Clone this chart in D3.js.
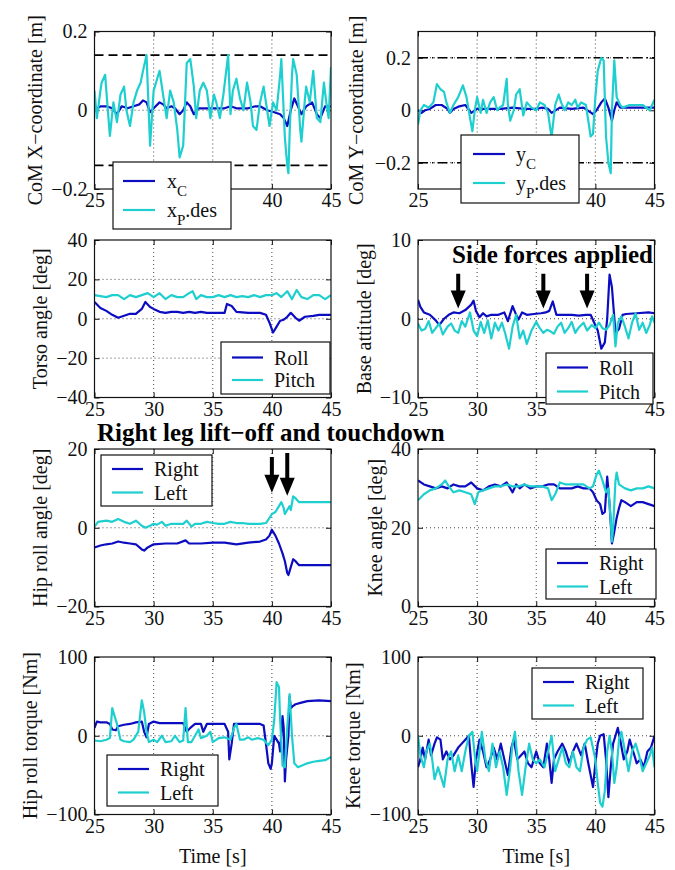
<!DOCTYPE html>
<html>
<head>
<meta charset="utf-8">
<script src="https://cdnjs.cloudflare.com/ajax/libs/d3/7.8.5/d3.min.js"></script>
<style>
  body { margin: 0; background: #fff; }
  svg text { font-family: "Liberation Serif", "Times New Roman", serif; }
</style>
</head>
<body>
<div id="chart"></div>
<script>
var BLUE = "#0c0cc0", CYAN = "#1fcfcf";
var SERIF = "Liberation Serif, Times New Roman, serif";
var timeTicks = [25, 30, 35, 40, 45];

// CoM X [m]
var xC = [[25,0],[25.5,0.01],[26,0.01],[26.5,0.005],[26.9,-0.01],[27.3,0.01],[27.8,0.005],[28.3,0.01],[28.8,0.015],[29.1,0.025],[29.4,0.02],[29.7,-0.005],[30,0.005],[30.5,0.02],[30.8,0.015],[31.1,0.005],[31.5,0.01],[31.8,0.005],[32.2,-0.01],[32.5,0],[32.8,0.02],[33.1,0.01],[33.4,-0.01],[33.8,0.005],[34.5,0.005],[35.2,0.005],[36,0.005],[36.5,0.01],[37,0.005],[38,0.005],[38.6,0.01],[39,0.01],[39.6,0],[40.2,-0.005],[40.7,-0.01],[41,-0.02],[41.3,-0.04],[41.6,0],[41.9,0.03],[42.2,0.01],[42.5,-0.01],[42.9,0.01],[43.4,0.02],[43.8,-0.01],[44.1,-0.02],[44.5,0.01],[45,0.01]];
var xPdes = [[25,0.05],[25.2,-0.02],[25.5,0.05],[25.6,0.07],[25.9,0.09],[26,0.05],[26.3,-0.065],[26.6,0.02],[26.9,-0.03],[27.2,0.04],[27.5,0.06],[27.7,0],[28,-0.04],[28.3,0.02],[28.6,0.05],[28.9,0.07],[29.1,0.1],[29.4,0.14],[29.7,-0.09],[30,0.05],[30.3,0.08],[30.5,0.1],[30.8,0.04],[31.1,-0.02],[31.4,0.05],[31.7,0.02],[32,-0.05],[32.2,-0.12],[32.5,-0.09],[32.8,0.12],[33.1,0.13],[33.4,0.06],[33.6,-0.02],[33.9,0.05],[34.2,0.07],[34.5,0.05],[34.8,-0.02],[35.1,0.04],[35.3,0.02],[35.6,-0.02],[35.9,0.04],[36.3,0.14],[36.5,-0.01],[36.7,0.05],[37,0.08],[37.3,0.03],[37.6,0],[37.9,0.07],[38.2,0.02],[38.4,-0.04],[38.7,-0.05],[39,0.02],[39.3,0.06],[39.6,0],[39.8,-0.04],[40.1,0.02],[40.4,0],[40.7,0.09],[40.8,0.13],[41.1,-0.07],[41.3,-0.14],[41.4,-0.16],[41.5,-0.06],[41.7,0.09],[41.8,0.13],[42.1,0.09],[42.4,-0.05],[42.5,-0.08],[42.8,0.03],[42.9,0.06],[43.2,0.02],[43.5,0.1],[43.8,-0.02],[44.1,-0.03],[44.4,0.07],[44.6,0.02],[44.8,-0.02],[45,0.11]];
var xLimits = [0.14, -0.14];

// CoM Y [m]
var yC = [[25,0],[25.3,-0.01],[25.6,0],[26,0.005],[26.5,0.02],[27,0.02],[27.5,0.005],[27.7,-0.01],[28,0.005],[28.5,0.015],[29,0.02],[29.5,-0.01],[30,0.005],[31,0.005],[32,0.005],[33,0.01],[34,0.005],[35,0.005],[35.5,0.01],[36,0.005],[36.3,-0.01],[37,0.01],[38,0.005],[39,0.01],[39.5,-0.005],[39.8,-0.015],[40.1,0],[40.5,0.03],[40.8,0.045],[41.1,0.01],[41.4,-0.04],[41.6,0],[41.8,0.03],[42.1,0.01],[43,0.01],[45,0.01]];
var yPdes = [[25,-0.055],[25.2,0],[25.5,0.02],[25.9,0.01],[26.3,0.03],[26.6,0.1],[26.9,0.08],[27.2,0.07],[27.4,0.03],[27.7,-0.01],[28,0.02],[28.4,0.05],[28.8,0.095],[29.1,0.05],[29.4,-0.03],[29.6,-0.08],[29.8,0],[30,0.05],[30.3,-0.01],[30.5,0.04],[30.8,-0.01],[31.1,0.03],[31.4,0.05],[31.7,0],[31.9,0.01],[32.2,0.02],[32.5,0.12],[32.6,0.02],[32.8,-0.04],[33.1,0],[33.3,0.06],[33.6,0.08],[33.9,-0.02],[34.2,0.03],[34.6,0.01],[35,0],[35.3,0.03],[35.7,0.02],[36,-0.01],[36.2,-0.075],[36.3,-0.1],[36.6,0.02],[36.9,0.06],[37.1,0.03],[37.4,0],[37.7,0.03],[38,0.02],[38.3,0.04],[38.5,0.01],[38.8,0.03],[39.2,0.02],[39.4,-0.04],[39.6,-0.1],[39.8,-0.09],[40,0.05],[40.2,0.15],[40.5,0.2],[40.7,0.19],[40.9,-0.1],[41.1,-0.2],[41.3,-0.24],[41.4,0],[41.6,0.19],[41.8,0.05],[42.1,0.02],[42.3,0.01],[42.9,0.02],[43.5,0.02],[44,0.02],[44.6,0],[45,0.04]];
var yLimits = [0.2, -0.2];

// Torso angle [deg]
var torsoRoll = [[25,8.5],[25.5,5.5],[26,4],[26.5,2],[27,0.5],[27.5,1.5],[28,2.5],[28.5,2.5],[29,5],[29.3,8.5],[29.7,6],[30,5],[30.5,3.5],[31,3],[31.5,3.5],[32,3.5],[32.5,3],[33,3.5],[33.5,3],[34,3.5],[34.5,3],[35,3],[35.5,3],[36,3],[36.2,7.5],[36.6,6.5],[37,3.5],[38,3],[38.5,3],[39,3],[39.5,2],[39.8,-2],[40.1,-7],[40.4,-4],[40.7,-1],[41,-0.5],[41.3,1],[41.6,3],[42,0.5],[42.3,-1],[42.8,1],[43.5,1.5],[44,2],[45,2]];
var torsoPitch = [[25,12],[25.5,11.5],[26,11],[26.5,12],[27,12],[27.5,10],[28,12],[28.5,11],[29,12],[29.5,13],[30,11],[30.5,13],[31,10],[31.5,12],[32,11],[32.5,11],[33,13],[33.3,14],[33.6,10],[34,12],[34.5,11],[35,11],[35.5,12],[36,11],[36.5,12],[37,11],[37.5,11.5],[38,11],[38.5,12],[39,11],[39.5,12],[40,12],[40.4,13],[40.8,11],[41.3,14],[41.7,10],[42.1,14.6],[42.5,11],[43,10],[43.5,12],[44,12],[44.5,10],[45,12]];

// Base attitude [deg]
var baseRoll = [[25,2.4],[25.2,1.5],[25.5,0.8],[26,0.5],[26.5,-0.2],[26.8,-0.8],[27.2,0],[27.6,0.5],[28,0.8],[28.5,0.7],[29,1.1],[29.5,1.8],[29.7,2.3],[29.9,1],[30.2,0.2],[30.5,0.7],[30.8,0.3],[31.2,0.5],[31.8,0.5],[32.3,0.8],[32.6,-0.3],[33,1.6],[33.3,0.5],[33.5,-0.1],[33.8,0.8],[34.2,0.5],[34.8,0.6],[35.4,0.7],[35.8,0.8],[36.1,1],[36.4,2.2],[36.7,0.5],[37.2,0.5],[38,0.5],[38.6,0.4],[39.2,0.5],[39.6,0.5],[39.9,-0.5],[40.2,-1.5],[40.5,-3.8],[40.8,-3],[41,0],[41.2,5.6],[41.4,4],[41.7,-1.8],[42,-1.3],[42.3,0.5],[42.6,0.6],[43.5,0.7],[44.5,0.8],[45,0.7]];
var basePitch = [[25,-0.6],[25.3,-1.5],[25.6,-1.3],[25.9,-0.3],[26.2,-1.8],[26.5,-1.2],[26.8,-0.6],[27.1,-2],[27.5,-1],[27.8,-0.6],[28.1,-1.5],[28.4,-1.8],[28.7,-0.3],[29,-1],[29.4,0.8],[29.7,-1.5],[30,-2.2],[30.3,-0.4],[30.6,-1.8],[30.9,-0.2],[31.2,-2.5],[31.5,-0.5],[31.8,-1.5],[32.1,-0.5],[32.4,-2],[32.7,-3.8],[33,-1],[33.3,0.5],[33.6,-2.5],[33.9,-1.5],[34.2,-3.2],[34.6,-1.5],[35,-0.4],[35.3,-1.2],[35.6,-1.8],[35.9,-1.4],[36.2,-1.6],[36.5,-1.9],[36.8,-1],[37.1,-0.5],[37.4,-1.8],[37.7,-1.2],[38,-0.4],[38.3,-1.8],[38.6,-1.1],[39,-0.5],[39.3,-1.5],[39.7,-0.8],[40,-1.2],[40.3,-0.5],[40.6,-1.2],[40.9,-1.4],[41.2,-0.8],[41.5,0.5],[41.7,-3.5],[41.9,-0.5],[42.2,0.3],[42.5,-1],[42.8,-2.5],[43.1,-0.5],[43.4,0.7],[43.7,-1.4],[44,-0.5],[44.3,-1.8],[44.6,-0.8],[44.8,0.3],[45,-0.5]];
var forceArrows = [[28.4, 5.7, 1.3], [35.6, 5.7, 1.3], [39.3, 5.7, 1.3]];

// Hip roll angle [deg]
var hipRight = [[25,-5],[25.5,-4.5],[26,-4.2],[26.5,-4],[27,-3.5],[27.5,-3.8],[28,-4],[28.5,-4.2],[29,-5.5],[29.2,-5.8],[29.5,-5],[30,-4.2],[31,-4],[32,-4],[32.7,-3.2],[33,-4],[34,-4],[35,-3.8],[36,-3.8],[37,-4.2],[38,-3.8],[39,-3.5],[39.5,-3],[39.8,-2],[40,-0.5],[40.3,-2],[40.6,-4],[40.9,-6.5],[41.1,-8.5],[41.3,-11.5],[41.4,-12],[41.6,-10],[41.8,-8],[42,-8.5],[42.3,-9.5],[43,-9.5],[44,-9.5],[45,-9.5]];
var hipLeft = [[25,0.3],[25.3,1.5],[26,1.8],[26.5,1.5],[27,2.2],[27.5,1.5],[28,1],[28.5,1.8],[29,0.5],[29.3,0],[29.7,0.5],[30,1],[30.3,0.8],[30.7,1.5],[31,0.5],[31.5,1],[32,1],[32.5,1],[32.8,1.8],[33.2,0.3],[33.5,1],[34,1],[34.5,1.5],[35,1.2],[35.5,1],[36,1],[36.5,1.5],[37,1.2],[37.5,1.2],[38,1],[38.5,1],[39,1],[39.5,1.2],[39.8,2.5],[40,3.5],[40.3,4],[40.6,5.5],[40.8,6.5],[41,5],[41.1,3.5],[41.3,4.5],[41.5,5.5],[41.6,4.5],[41.8,8],[42,7.5],[42.3,6.5],[43,6.5],[44,6.5],[45,6.5]];
var liftArrows = [[40.0, 18, 8.9], [41.3, 19, 8.1]];

// Knee angle [deg]
var kneeRight = [[25,32],[25.5,31],[26,30.5],[26.5,30],[27,30.5],[27.5,30],[28,31],[28.5,30.5],[29,30.5],[29.5,31.5],[30,30],[30.5,29.5],[31,30.5],[31.5,31],[32,30.5],[32.5,31.5],[33,29],[33.3,31],[33.6,30],[34,31],[34.5,30],[35,30.5],[35.5,30.5],[36,31],[36.5,31],[37,30],[37.5,30],[38,30],[38.5,30.5],[39,30],[39.5,30],[39.8,29],[40.1,27],[40.4,26],[40.6,23.5],[40.8,24],[41,33],[41.2,26],[41.4,16],[41.6,19],[41.8,22.5],[42,25],[42.2,27],[42.5,26.5],[43,25.5],[43.5,26.5],[44,26.5],[44.5,26],[45,25.5]];
var kneeLeft = [[25,27],[25.5,28.5],[26,29.5],[26.5,30],[27,31],[27.3,32],[27.6,30.5],[28,29],[28.5,29.5],[29,29],[29.5,28.5],[29.8,26],[30.1,29],[30.5,29.5],[31,30],[31.5,30.5],[32,30.5],[32.5,31],[33,30.5],[33.5,30.5],[34,31],[34.5,30.5],[35,30.5],[35.5,30.5],[36,30],[36.3,27],[36.6,28.5],[37,31.5],[37.5,31],[38,31],[38.5,31],[39,31],[39.5,30],[39.8,30.5],[40.1,33.5],[40.3,34.5],[40.6,32],[40.9,29],[41.1,30],[41.3,22],[41.4,16.5],[41.5,20],[41.7,32],[41.8,34],[42,31],[42.5,30],[43,29.5],[43.5,30],[44,30],[44.5,30.5],[45,30]];

// Hip roll torque [Nm]
var hipTqRight = [[25,10],[25.2,18],[25.5,17],[26,17],[26.3,15],[26.5,8],[26.8,7],[27,12],[27.5,14],[28,15],[28.5,17],[29,18],[29.2,5],[29.4,-2],[29.6,15],[30,18],[30.5,16],[31,16],[31.5,16],[32,16],[32.5,16],[32.8,5],[33.1,10],[33.5,15],[34,15],[34.2,5],[34.5,15],[35,15],[35.5,15],[36,15],[36.3,5],[36.4,-30],[36.6,-10],[36.8,15],[37.5,15],[38,15],[38.5,15],[39,15],[39.3,13],[39.5,-10],[39.7,-35],[39.9,-42],[40,-35],[40.2,0],[40.4,-5],[40.6,-10],[40.7,-20],[40.9,25],[41,10],[41.1,-58],[41.2,-30],[41.4,0],[41.5,50],[41.6,35],[41.8,38],[42,40],[42.5,42],[43,44],[44,45],[45,44]];
var hipTqLeft = [[25,-6],[25.5,-7],[26,-5],[26.3,-3],[26.5,35],[26.7,25],[26.9,15],[27.2,-5],[27.5,-7],[28,-8],[28.3,-5],[28.7,5],[29,45],[29.2,30],[29.4,5],[29.6,-8],[30,-5],[30.3,-8],[30.7,0],[31,-8],[31.5,-7],[31.8,0],[32.2,-8],[32.5,-6],[32.7,35],[32.9,-8],[33.2,-8],[33.5,0],[33.8,8],[34,-3],[34.5,0],[34.8,5],[35,-8],[35.5,-3],[36,-2],[36.5,-5],[36.8,10],[37,15],[37.3,-5],[37.6,-5],[38,-2],[38.3,-5],[38.8,-3],[39.3,-5],[39.7,-12],[40,-5],[40.2,20],[40.4,68],[40.6,62],[40.7,20],[40.9,-38],[41.1,-40],[41.3,10],[41.5,53],[41.7,0],[41.9,-35],[42.2,-40],[42.5,-38],[43,-35],[43.5,-33],[44,-32],[44.5,-31],[45,-27]];

// Knee torque [Nm]
var kneeTqRight = [[25,-40],[25.2,-30],[25.4,-15],[25.6,-30],[25.9,-5],[26.1,-25],[26.4,-10],[26.6,-2],[26.9,-5],[27.1,-30],[27.4,-20],[27.7,-30],[28,-25],[28.4,-15],[28.7,-10],[29,-5],[29.3,0],[29.5,-35],[29.7,-65],[29.9,-30],[30.2,-5],[30.5,-20],[30.8,-40],[31.1,-30],[31.4,-15],[31.7,-30],[32,-10],[32.3,-30],[32.6,-50],[32.9,-15],[33.1,-5],[33.4,-30],[33.7,-25],[34,-20],[34.3,-35],[34.6,-40],[35,-20],[35.3,-35],[35.6,-40],[35.9,-10],[36.1,-30],[36.3,-60],[36.5,-30],[36.8,-20],[37.2,-10],[37.5,-20],[37.8,-35],[38.1,-20],[38.4,-10],[38.8,-25],[39.1,-10],[39.4,-35],[39.6,-50],[39.8,-65],[40,-35],[40.2,-10],[40.4,0],[40.7,2],[40.9,-30],[41.1,-78],[41.3,-40],[41.5,-10],[41.7,0],[41.9,10],[42.1,-5],[42.4,-30],[42.7,-20],[42.9,-5],[43.2,-20],[43.5,-35],[43.8,-30],[44.1,-40],[44.4,-20],[44.7,-15],[45,0]];
var kneeTqLeft = [[25,0],[25.2,-25],[25.5,-40],[25.7,-20],[26,-10],[26.2,-30],[26.4,-55],[26.7,-40],[27,-55],[27.2,-65],[27.5,-30],[27.8,-20],[28.1,-45],[28.4,-25],[28.7,-45],[29,-20],[29.3,0],[29.6,5],[29.8,-25],[30,-45],[30.4,5],[30.7,-30],[31,-45],[31.3,-10],[31.6,-40],[31.9,-20],[32.2,-40],[32.5,-75],[32.8,-40],[33,-10],[33.2,5],[33.5,-45],[33.8,-75],[34.1,-40],[34.4,-10],[34.7,-30],[35,-35],[35.3,-30],[35.7,-40],[36,-20],[36.3,0],[36.6,-45],[36.9,-30],[37.2,-15],[37.5,-35],[37.8,-40],[38.1,-20],[38.4,-40],[38.7,-45],[39,-15],[39.3,-5],[39.6,-2],[40,-30],[40.2,-60],[40.4,-85],[40.6,-90],[40.8,-70],[41,-20],[41.2,0],[41.4,-20],[41.6,-60],[41.8,-40],[42,-5],[42.2,5],[42.5,-20],[42.8,-45],[43.1,-20],[43.4,-10],[43.7,-25],[44,-45],[44.3,-35],[44.6,-25],[44.8,-15],[45,-40]];

var svg = d3.select("#chart").append("svg")
  .attr("width", 675)
  .attr("height", 870);

var PW = 236.5, PH = 157.5;
var cols = [94.5, 418], rows = [31.5, 240, 449, 657];

var panels = [
  { col: 0, row: 0, ylabel: "CoM X\u2212coordinate [m]", labelOff: 59.5, yDomain: [-0.2, 0.2], yTicks: [-0.2, 0, 0.2],
    series: [[xC, BLUE], [xPdes, CYAN]], limits: xLimits, limitDash: "9,5",
    legend: { x: 113, y: 162, w: 118, h: 67, rows: [19, 48], labels: ["x_C", "x_P.des"], lx: [10, 42], tx: 54 } },
  { col: 1, row: 0, ylabel: "CoM Y\u2212coordinate [m]", labelOff: 62, yDomain: [-0.3, 0.3], yTicks: [-0.2, 0, 0.2],
    series: [[yC, BLUE], [yPdes, CYAN]], limits: yLimits, limitDash: "10,4,1.5,4",
    legend: { x: 461, y: 135, w: 118, h: 68, rows: [19, 48], labels: ["y_C", "y_P.des"], lx: [12, 44], tx: 55 } },
  { col: 0, row: 1, ylabel: "Torso angle [deg]", labelOff: 54.5, yDomain: [-40, 40], yTicks: [-40, -20, 0, 20, 40],
    series: [[torsoRoll, BLUE], [torsoPitch, CYAN]],
    legend: { x: 221, y: 342, w: 109, h: 52, rows: [15.5, 38], labels: ["Roll", "Pitch"], lx: [11, 42], tx: 53 } },
  { col: 1, row: 1, ylabel: "Base attitude [deg]", labelOff: 54, yDomain: [-10, 10], yTicks: [-10, 0, 10],
    series: [[baseRoll, BLUE], [basePitch, CYAN]], arrows: forceArrows,
    legend: { x: 546, y: 353, w: 107, h: 51, rows: [14.5, 38.5], labels: ["Roll", "Pitch"], lx: [11, 42], tx: 53 } },
  { col: 0, row: 2, ylabel: "Hip roll angle [deg]", labelOff: 54.5, yDomain: [-20, 20], yTicks: [-20, 0, 20],
    series: [[hipRight, BLUE], [hipLeft, CYAN]], arrows: liftArrows,
    legend: { x: 101, y: 455, w: 111, h: 51, rows: [14, 37.5], labels: ["Right", "Left"], lx: [11, 42], tx: 53 } },
  { col: 1, row: 2, ylabel: "Knee angle [deg]", labelOff: 43, yDomain: [0, 40], yTicks: [0, 20, 40],
    series: [[kneeRight, BLUE], [kneeLeft, CYAN]],
    legend: { x: 546, y: 549, w: 110, h: 50, rows: [14, 37.5], labels: ["Right", "Left"], lx: [11, 42], tx: 53 } },
  { col: 0, row: 3, ylabel: "Hip roll torque [Nm]", labelOff: 64.5, yDomain: [-100, 100], yTicks: [-100, 0, 100],
    series: [[hipTqRight, BLUE], [hipTqLeft, CYAN]], xlabel: "Time [s]",
    legend: { x: 107, y: 755, w: 111, h: 51, rows: [14, 37.5], labels: ["Right", "Left"], lx: [11, 42], tx: 53 } },
  { col: 1, row: 3, ylabel: "Knee torque [Nm]", labelOff: 65, yDomain: [-100, 100], yTicks: [-100, 0, 100],
    series: [[kneeTqRight, BLUE], [kneeTqLeft, CYAN]], xlabel: "Time [s]",
    legend: { x: 532, y: 668, w: 111, h: 51, rows: [14, 37.5], labels: ["Right", "Left"], lx: [11, 42], tx: 53 } }
];

var fmt = d3.format("~g");

function styleAxis(g) {
  g.select(".domain").remove();
  g.attr("font-size", 20).attr("font-family", SERIF);
  g.selectAll("text").attr("fill", "#111").attr("font-family", SERIF);
  g.selectAll("line").attr("stroke", "#111");
}

function drawLabel(sel, label) {
  var m = label.match(/^(.)_(.)(.*)$/);
  if (!m) { sel.text(label); return; }
  sel.append("tspan").text(m[1]);
  sel.append("tspan").attr("font-size", 15).attr("dy", 8).text(m[2]);
  if (m[3]) sel.append("tspan").attr("dy", -8).text(m[3]);
}

panels.forEach(function(p, i) {
  var left = cols[p.col], top = rows[p.row];
  var x = d3.scaleLinear().domain([25, 45]).range([left, left + PW]);
  var y = d3.scaleLinear().domain(p.yDomain).range([top + PH, top]);
  var L = p.legend;
  var g = svg.append("g");

  // tick labels hidden behind a legend that hangs below the box
  var covered = function(t) {
    return L.y + L.h > top + PH && x(t) > L.x && x(t) < L.x + L.w;
  };

  // dotted grid
  var innerY = p.yTicks.filter(function(v) { return v !== p.yDomain[0] && v !== p.yDomain[1]; });
  g.append("g").selectAll("line").data(timeTicks.slice(1, -1)).enter().append("line")
    .attr("x1", function(d) { return x(d); }).attr("x2", function(d) { return x(d); })
    .attr("y1", top).attr("y2", top + PH)
    .attr("stroke", "#333").attr("stroke-width", 0.9).attr("stroke-dasharray", "1,3");
  g.append("g").selectAll("line").data(innerY).enter().append("line")
    .attr("x1", left).attr("x2", left + PW)
    .attr("y1", function(d) { return y(d); }).attr("y2", function(d) { return y(d); })
    .attr("stroke", "#333").attr("stroke-width", 0.9).attr("stroke-dasharray", "1,3");

  // axes with inward ticks
  g.append("g").attr("transform", "translate(0," + (top + PH) + ")")
    .call(d3.axisBottom(x).tickValues(timeTicks).tickSizeInner(-5).tickSizeOuter(0).tickPadding(4)
      .tickFormat(function(t) { return covered(t) ? "" : fmt(t); }))
    .call(styleAxis);
  g.append("g").attr("transform", "translate(0," + top + ")")
    .call(d3.axisTop(x).tickValues(timeTicks).tickSizeInner(-5).tickSizeOuter(0).tickFormat(""))
    .call(styleAxis);
  g.append("g").attr("transform", "translate(" + left + ",0)")
    .call(d3.axisLeft(y).tickValues(p.yTicks).tickSizeInner(-5).tickSizeOuter(0).tickPadding(7).tickFormat(fmt))
    .call(styleAxis);
  g.append("g").attr("transform", "translate(" + (left + PW) + ",0)")
    .call(d3.axisRight(y).tickValues(p.yTicks).tickSizeInner(-5).tickSizeOuter(0).tickFormat(""))
    .call(styleAxis);

  // clip to the box
  svg.append("clipPath").attr("id", "clip" + i).append("rect")
    .attr("x", left).attr("y", top).attr("width", PW).attr("height", PH);
  var plot = g.append("g").attr("clip-path", "url(#clip" + i + ")");

  if (p.limits) {
    plot.selectAll(".lim").data(p.limits).enter().append("line")
      .attr("x1", left).attr("x2", left + PW)
      .attr("y1", function(d) { return y(d); }).attr("y2", function(d) { return y(d); })
      .attr("stroke", "#000").attr("stroke-width", 1.6).attr("stroke-dasharray", p.limitDash);
  }

  var line = d3.line().x(function(d) { return x(d[0]); }).y(function(d) { return y(d[1]); });
  p.series.forEach(function(s) {
    plot.append("path").datum(s[0])
      .attr("d", line).attr("fill", "none")
      .attr("stroke", s[1]).attr("stroke-width", 2.2).attr("stroke-linejoin", "round");
  });

  if (p.arrows) {
    p.arrows.forEach(function(a) {
      var cx = x(a[0]), yt = y(a[1]), yp = y(a[2]), hb = yp - 18;
      g.append("path")
        .attr("d", "M" + (cx - 2) + "," + yt + "L" + (cx + 2) + "," + yt + "L" + (cx + 2) + "," + hb +
          "L" + (cx + 7.5) + "," + hb + "L" + cx + "," + yp + "L" + (cx - 7.5) + "," + hb +
          "L" + (cx - 2) + "," + hb + "Z")
        .attr("fill", "#000");
    });
  }

  // box
  g.append("rect").attr("x", left).attr("y", top).attr("width", PW).attr("height", PH)
    .attr("fill", "none").attr("stroke", "#111").attr("stroke-width", 1.2);

  // labels
  g.append("text")
    .attr("transform", "translate(" + (left - p.labelOff) + "," + (top + PH / 2) + ") rotate(-90)")
    .attr("text-anchor", "middle").attr("dy", "0.35em")
    .attr("font-size", 20).attr("fill", "#111")
    .text(p.ylabel);
  if (p.xlabel) {
    g.append("text").attr("x", left + PW / 2).attr("y", top + PH + 48)
      .attr("text-anchor", "middle").attr("font-size", 20).attr("fill", "#111")
      .text(p.xlabel);
  }

  // legend
  var lg = g.append("g").attr("transform", "translate(" + L.x + "," + L.y + ")");
  lg.append("rect").attr("width", L.w).attr("height", L.h)
    .attr("fill", "#fff").attr("stroke", "#111").attr("stroke-width", 1.2);
  p.series.forEach(function(s, k) {
    lg.append("line").attr("x1", L.lx[0]).attr("x2", L.lx[1])
      .attr("y1", L.rows[k]).attr("y2", L.rows[k])
      .attr("stroke", s[1]).attr("stroke-width", 2.2);
    var t = lg.append("text").attr("x", L.tx).attr("y", L.rows[k] + 7)
      .attr("font-size", 20).attr("fill", "#111");
    drawLabel(t, L.labels[k]);
  });
});

// annotations
svg.append("text").attr("x", 452).attr("y", 263)
  .attr("font-size", 25).attr("font-weight", "bold").attr("fill", "#000")
  .text("Side forces applied");
svg.append("text").attr("x", 97).attr("y", 441)
  .attr("font-size", 25).attr("font-weight", "bold").attr("fill", "#000")
  .text("Right leg lift\u2212off and touchdown");
</script>
</body>
</html>
